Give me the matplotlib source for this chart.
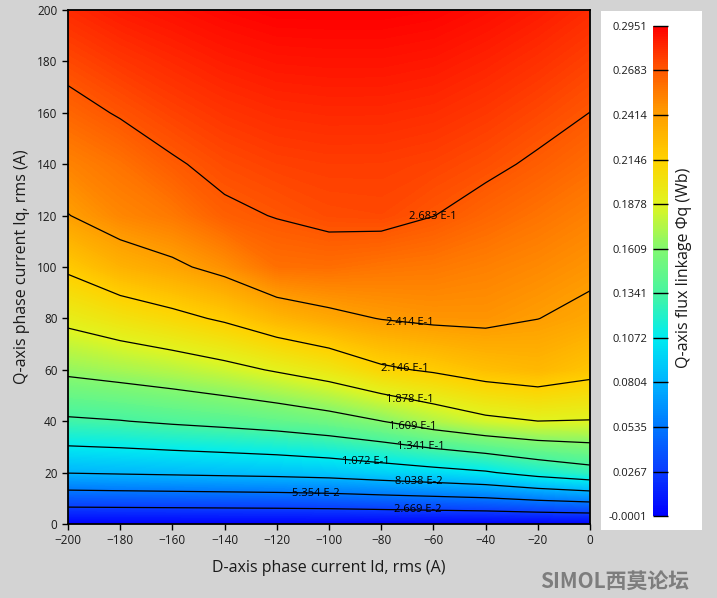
import numpy as np
import matplotlib
matplotlib.use('Agg')
import matplotlib.pyplot as plt
from matplotlib.colors import LinearSegmentedColormap, Normalize
from matplotlib.patches import Rectangle
from matplotlib import cm

# d-axis / q-axis current grid (A, rms)
id_vals = [-200, -180, -160, -140, -120, -100, -80, -60, -40, -20, 0]
iq_vals = [0, 20, 40, 60, 80, 100, 120, 140, 160, 180, 200]

# Q-axis flux linkage (Wb), one row per Iq value, columns follow id_vals
phi_iq0 = [0.0, 0.0, 0.0, 0.0, 0.0, 0.0, 0.0, 0.0, 0.0, 0.0, 0.0]
phi_iq20 = [0.0812, 0.0827, 0.0841, 0.0856, 0.0871, 0.0896, 0.0945, 0.0994, 0.1049, 0.1160, 0.1250]
phi_iq40 = [0.1311, 0.1334, 0.1373, 0.1408, 0.1451, 0.1516, 0.1606, 0.1730, 0.1830, 0.1877, 0.1869]
phi_iq60 = [0.1654, 0.1700, 0.1748, 0.1814, 0.1898, 0.1986, 0.2113, 0.2170, 0.2240, 0.2280, 0.2210]
phi_iq80 = [0.1930, 0.2014, 0.2090, 0.2174, 0.2290, 0.2365, 0.2420, 0.2450, 0.2455, 0.2416, 0.2370]
phi_iq100 = [0.2182, 0.2310, 0.2380, 0.2470, 0.2592, 0.2600, 0.2575, 0.2561, 0.2531, 0.2497, 0.2452]
phi_iq120 = [0.2409, 0.2506, 0.2559, 0.2655, 0.2689, 0.2722, 0.2730, 0.2685, 0.2630, 0.2580, 0.2529]
phi_iq140 = [0.2521, 0.2584, 0.2667, 0.2723, 0.2753, 0.2765, 0.2764, 0.2748, 0.2713, 0.2662, 0.2606]
phi_iq160 = [0.2630, 0.2696, 0.2750, 0.2792, 0.2818, 0.2827, 0.2826, 0.2812, 0.2779, 0.2734, 0.2682]
phi_iq180 = [0.2730, 0.2783, 0.2825, 0.2861, 0.2884, 0.2889, 0.2889, 0.2876, 0.2844, 0.2802, 0.2751]
phi_iq200 = [0.2820, 0.2870, 0.2900, 0.2930, 0.2950, 0.2951, 0.2951, 0.2940, 0.2910, 0.2870, 0.2820]

levels = [0.02669, 0.05354, 0.08038, 0.1072, 0.1341, 0.1609, 0.1878, 0.2146, 0.2414, 0.2683]
cbar_ticks = [-0.0001, 0.0267, 0.0535, 0.0804, 0.1072, 0.1341, 0.1609, 0.1878,
              0.2146, 0.2414, 0.2683, 0.2951]
vmin, vmax = -0.0001, 0.2951

Z = np.array([phi_iq0, phi_iq20, phi_iq40, phi_iq60, phi_iq80, phi_iq100,
              phi_iq120, phi_iq140, phi_iq160, phi_iq180, phi_iq200])
X, Y = np.meshgrid(id_vals, iq_vals)

cmap = LinearSegmentedColormap.from_list('flux', [
    (0.000, '#0000ff'), (0.091, '#0a3cff'), (0.182, '#0078ff'), (0.273, '#00b4ff'),
    (0.364, '#00ecf0'), (0.455, '#48f5a0'), (0.545, '#82f870'), (0.636, '#e0f520'),
    (0.727, '#ffd200'), (0.818, '#ffa000'), (0.909, '#ff5a00'), (1.000, '#ff0000')])
norm = Normalize(vmin, vmax)

plt.rcParams['font.family'] = ['Open Sans', 'DejaVu Sans']

fig = plt.figure(figsize=(7.17, 5.98), dpi=100, facecolor='#d3d3d3')
ax = fig.add_axes([68 / 717, 74 / 598, 522 / 717, 514 / 598])

ax.contourf(X, Y, Z, levels=np.linspace(vmin, vmax, 256), cmap=cmap, norm=norm)
cs = ax.contour(X, Y, Z, levels=levels, colors='black', linewidths=0.9)


def fmt(v):
    e = int(np.floor(np.log10(v)))
    return f'{v / 10 ** e:.3f} E{e}'


label_pos = [(-66, 4.7), (-105, 11.3), (-65.5, 16.3), (-85.8, 23.3), (-64.8, 30),
             (-68, 37.7), (-69.3, 47.5), (-71, 59.5), (-69, 77), (-60.2, 119)]
texts = ax.clabel(cs, manual=label_pos, inline=False, fmt=fmt, fontsize=8, colors='black')
for t in texts:
    t.set_rotation(0)

ax.set_xlim(-200, 0)
ax.set_ylim(0, 200)
ax.set_xticks(range(-200, 1, 20))
ax.set_yticks(range(0, 201, 20))
ax.tick_params(direction='out', length=4, width=1, color='black',
               labelsize=8.5, labelcolor='#1a1a1a')
for s in ax.spines.values():
    s.set_linewidth(1.3)
ax.set_xlabel('D-axis phase current Id, rms (A)', fontsize=11.5, labelpad=9, color='#1a1a1a')
ax.set_ylabel('Q-axis phase current Iq, rms (A)', fontsize=11.5, labelpad=5, color='#1a1a1a')

# white panel behind the colour bar
fig.patches.append(Rectangle((601 / 717, 68 / 598), 101 / 717, 519 / 598,
                             transform=fig.transFigure, facecolor='white',
                             edgecolor='none', zorder=-1))

cax = fig.add_axes([653 / 717, 82 / 598, 15 / 717, 490 / 598])
cb = fig.colorbar(cm.ScalarMappable(norm=norm, cmap=cmap), cax=cax, ticks=cbar_ticks)
cb.outline.set_visible(False)
cax.yaxis.set_ticks_position('left')
cax.set_yticklabels([f'{t:.4f}' for t in cbar_ticks])
cax.tick_params(direction='in', length=10.8, width=1, color='black',
                labelsize=8, labelcolor='#1a1a1a', pad=4)

fig.text(684 / 717, 1 - 268 / 598, 'Q-axis flux linkage Φq (Wb)', rotation=90,
         ha='center', va='center', fontsize=11.5, color='#1a1a1a')

fig.text(615 / 717, 1 - 581 / 598, 'SIMOL西莫论坛', family=['Noto Sans CJK SC', 'DejaVu Sans'],
         color='#7d7d7d', fontsize=15, fontweight='bold', ha='center', va='center')

fig.savefig('out.png', dpi=100, facecolor=fig.get_facecolor())
